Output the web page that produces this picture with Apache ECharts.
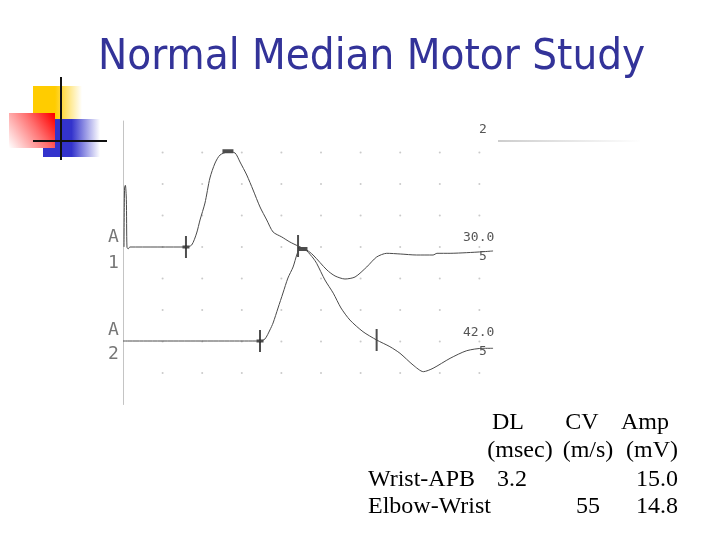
<!DOCTYPE html>
<html style="height: 100%">
<head>
<meta charset="utf-8">
<script type="text/javascript" src="https://cdn.jsdelivr.net/npm/echarts@6/dist/echarts.min.js"></script>
</head>
<body style="height: 100%; margin: 0; background: #fff">
<div id="container" style="width: 720px; height: 540px"></div>
<script type="text/javascript">
// channel A1, wrist stimulation: [ms, mV]
var wristTrace = [
    [0.05, 0], [0.08, 9.5], [0.12, 9.8], [0.17, 7.5], [0.2, 0], [0.26, -0.3], [0.35, 0],
    [3.18, 0], [3.47, 0.32], [3.72, 2.22], [3.89, 4.29], [4.14, 6.98], [4.39, 10.95],
    [4.65, 13.33], [4.9, 14.6], [5.3, 15.08], [5.66, 14.92], [5.91, 13.49], [6.25, 11.43],
    [6.57, 9.05], [6.92, 6.35], [7.26, 4.29], [7.58, 2.38], [8.02, 1.59], [8.43, 0.79],
    [8.84, 0.16], [9.28, -0.48], [9.6, -1.27], [10.3, -3.65], [10.71, -4.6], [11.21, -5.08],
    [11.72, -4.76], [12.31, -3.17], [12.81, -1.59], [13.32, -1.0], [14.0, -1.11],
    [14.83, -1.27], [15.66, -1.27], [15.86, -1.0], [16.52, -1.0], [17.36, -0.9],
    [18.18, -0.75], [18.69, -0.63]
];
// channel A2, elbow stimulation: [ms, mV]
var elbowTrace = [
    [0, 0], [6.92, 0], [7.17, 0.32], [7.42, 1.75], [7.58, 2.86], [7.83, 5.24], [8.08, 7.62],
    [8.33, 10.0], [8.59, 11.75], [8.79, 13.8], [8.94, 14.76], [9.14, 14.6], [9.29, 14.29],
    [9.6, 13.17], [9.78, 12.33], [10.2, 9.68], [10.62, 7.59], [11.01, 5.24], [11.46, 3.33],
    [12.12, 1.48], [12.81, 0.16], [13.48, -0.9], [13.99, -1.95], [14.65, -3.81],
    [15.17, -4.87], [15.66, -4.33], [16.52, -2.75], [17.36, -1.54], [18.18, -1.16],
    [18.69, -1.16]
];
// cursor marks
var wristTicks = [[3.18, 0], [8.84, 0.16]];
var wristNubs = [[3.18, 0]];
var wristPeak = [[5.3, 15.2]];
var elbowTicks = [[6.92, 0], [12.81, 0.16]];
var elbowNubs = [[6.92, 0]];
var elbowPeak = [[9.09, 14.6]];
// screen grid (2 ms/div, 5 mV/div)
var gridTimes = [2, 4, 6, 8, 10, 12, 14, 16, 18];
var gridLevels = [15, 10, 5, 0, -5, -10, -15, -20];

// table
var tableHead = ['DL', 'CV', 'Amp'];
var tableUnits = ['(msec)', '(m/s)', '(mV)'];
var siteNames = ['Wrist-APB', 'Elbow-Wrist'];
var dlValues = ['3.2', ''];
var cvValues = ['', '55'];
var ampValues = ['15.0', '14.8'];

var dom = document.getElementById("container");
var myChart = echarts.init(dom);

var dots = [];
for (var i = 0; i < gridTimes.length; i++) {
    for (var j = 0; j < gridLevels.length; j++) {
        dots.push([gridTimes[i], gridLevels[j]]);
    }
}

var serif = '"Liberation Serif", "Times New Roman", serif';
var scopeFont = '"DejaVu Sans Mono", monospace';

function txt(text, x, y, opts) {
    var o = opts || {};
    return {
        type: 'text', x: x, y: y, z: o.z || 10,
        style: {
            text: text,
            font: o.font,
            fill: o.fill || '#000',
            textAlign: o.align || 'left',
            textVerticalAlign: 'middle'
        }
    };
}

var graphics = [
    // template logo
    { type: 'rect', shape: { x: 33, y: 86, width: 49, height: 33 }, z: 1,
      style: { fill: new echarts.graphic.LinearGradient(0, 0, 1, 0, [
          { offset: 0, color: '#ffcc00' }, { offset: 0.45, color: '#ffcc00' }, { offset: 1, color: '#ffffff' }]) } },
    { type: 'rect', shape: { x: 43, y: 119, width: 57, height: 38 }, z: 2,
      style: { fill: new echarts.graphic.LinearGradient(0, 0, 1, 0, [
          { offset: 0, color: '#3333cc' }, { offset: 0.5, color: '#3333cc' }, { offset: 1, color: '#ffffff' }]) } },
    { type: 'rect', shape: { x: 9, y: 113, width: 46, height: 35 }, z: 3,
      style: { fill: new echarts.graphic.LinearGradient(1, 0.1, 0, 1, [
          { offset: 0, color: '#ff0000' }, { offset: 0.4, color: '#ff6f6f' }, { offset: 1, color: '#ffffff' }]) } },
    { type: 'line', shape: { x1: 61, y1: 77, x2: 61, y2: 160 }, z: 4, style: { stroke: '#111', lineWidth: 2 } },
    { type: 'line', shape: { x1: 33, y1: 141, x2: 107, y2: 141 }, z: 4, style: { stroke: '#111', lineWidth: 2 } },
    { type: 'line', shape: { x1: 498, y1: 141, x2: 640, y2: 141 }, z: 4,
      style: { stroke: new echarts.graphic.LinearGradient(0, 0, 1, 0, [
          { offset: 0, color: '#cccccc' }, { offset: 1, color: '#ffffff' }]), lineWidth: 2 } },
    // scope labels
    txt('A', 108, 237, { font: '18px ' + scopeFont, fill: '#777' }),
    txt('1', 108, 263, { font: '18px ' + scopeFont, fill: '#777' }),
    txt('A', 108, 330, { font: '18px ' + scopeFont, fill: '#777' }),
    txt('2', 108, 354, { font: '18px ' + scopeFont, fill: '#777' }),
    txt('2', 479, 130, { font: '13px ' + scopeFont, fill: '#555' }),
    txt('30.0', 463, 238, { font: '13px ' + scopeFont, fill: '#555' }),
    txt('5', 479, 257, { font: '13px ' + scopeFont, fill: '#555' }),
    txt('42.0', 463, 333, { font: '13px ' + scopeFont, fill: '#555' }),
    txt('5', 479, 352, { font: '13px ' + scopeFont, fill: '#555' }),
    // edge of scanned picture
    { type: 'rect', shape: { x: 494, y: 220, width: 40, height: 140 }, z: 20, style: { fill: '#fff' } }
];

var headX = [508, 582, 645];
var unitX = [520, 588, 652];
for (var k = 0; k < tableHead.length; k++) {
    graphics.push(txt(tableHead[k], headX[k], 423, { font: '24px ' + serif, align: 'center' }));
    graphics.push(txt(tableUnits[k], unitX[k], 451, { font: '24px ' + serif, align: 'center' }));
}
var rowY = [480, 507];
for (var r = 0; r < siteNames.length; r++) {
    graphics.push(txt(siteNames[r], 368, rowY[r], { font: '24px ' + serif }));
    graphics.push(txt(dlValues[r], 512, rowY[r], { font: '24px ' + serif, align: 'center' }));
    graphics.push(txt(cvValues[r], 588, rowY[r], { font: '24px ' + serif, align: 'center' }));
    graphics.push(txt(ampValues[r], 678, rowY[r], { font: '24px ' + serif, align: 'right' }));
}

var hiddenX = {
    type: 'value', min: 0, max: 20,
    axisLine: { show: false }, axisTick: { show: false },
    axisLabel: { show: false }, splitLine: { show: false }
};

option = {
    backgroundColor: '#ffffff',
    animation: false,
    title: {
        text: 'Normal Median Motor Study',
        left: 98,
        top: 36,
        padding: 0,
        textStyle: {
            fontFamily: '"DejaVu Sans Condensed", "DejaVu Sans", sans-serif',
            fontSize: 43.5,
            fontWeight: 'normal',
            color: '#333399'
        }
    },
    grid: [
        { left: 123, top: 121, width: 396, height: 283.5 },
        { left: 123, top: 120.5, width: 396, height: 283.5 }
    ],
    xAxis: [
        echarts.util.extend({ gridIndex: 0 }, hiddenX),
        echarts.util.extend({ gridIndex: 1 }, hiddenX)
    ],
    yAxis: [
        { type: 'value', gridIndex: 0, min: -25, max: 20,
          axisLine: { show: true, lineStyle: { color: '#c4c4c4', width: 1 } },
          axisTick: { show: false }, axisLabel: { show: false }, splitLine: { show: false } },
        { type: 'value', gridIndex: 1, min: -10, max: 35,
          axisLine: { show: false }, axisTick: { show: false },
          axisLabel: { show: false }, splitLine: { show: false } }
    ],
    graphic: graphics,
    series: [
        { type: 'scatter', xAxisIndex: 0, yAxisIndex: 0, data: dots, symbolSize: 2,
          itemStyle: { color: '#bdbdbd' }, silent: true },
        { name: 'A1', type: 'line', xAxisIndex: 0, yAxisIndex: 0, data: wristTrace,
          symbol: 'none', smooth: 0.25, lineStyle: { color: '#4a4a4a', width: 1 } },
        { name: 'A2', type: 'line', xAxisIndex: 1, yAxisIndex: 1, data: elbowTrace,
          symbol: 'none', smooth: 0.25, lineStyle: { color: '#4a4a4a', width: 1 } },
        { type: 'scatter', xAxisIndex: 0, yAxisIndex: 0, data: wristTicks, symbol: 'rect',
          symbolSize: [2, 22], itemStyle: { color: '#222' } },
        { type: 'scatter', xAxisIndex: 0, yAxisIndex: 0, data: wristNubs, symbol: 'rect',
          symbolSize: [7, 3], itemStyle: { color: '#222' } },
        { type: 'scatter', xAxisIndex: 0, yAxisIndex: 0, data: wristPeak, symbol: 'rect',
          symbolSize: [11, 4], itemStyle: { color: '#222' } },
        { type: 'scatter', xAxisIndex: 1, yAxisIndex: 1, data: elbowTicks, symbol: 'rect',
          symbolSize: [2, 22], itemStyle: { color: '#222' } },
        { type: 'scatter', xAxisIndex: 1, yAxisIndex: 1, data: elbowNubs, symbol: 'rect',
          symbolSize: [7, 3], itemStyle: { color: '#222' } },
        { type: 'scatter', xAxisIndex: 1, yAxisIndex: 1, data: elbowPeak, symbol: 'rect',
          symbolSize: [9, 4], itemStyle: { color: '#222' } }
    ]
};
if (option && typeof option === "object") {
    myChart.setOption(option, true);
}
</script>
</body>
</html>
